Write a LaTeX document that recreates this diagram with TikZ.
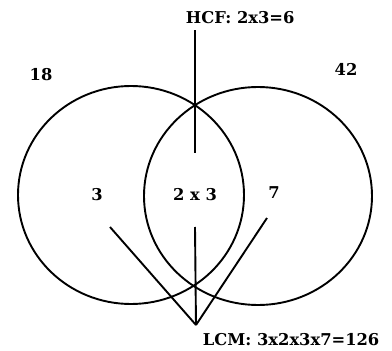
\documentclass[tikz,border=0pt]{standalone}
\usepackage{fontspec}
\setmainfont{DejaVu Serif}
\begin{document}
\begin{tikzpicture}[x=1pt,y=-1pt,line width=1.9pt,
  lbl/.style={font=\fontsize{16.3}{18}\selectfont\bfseries, inner sep=0pt}]
\useasboundingbox (0,0) rectangle (392,351);
% the two sets
\draw (131,195) ellipse [x radius=113pt, y radius=109pt];
\draw (258,196) ellipse [x radius=114pt, y radius=109pt];

\node[lbl] (n18) at (41,75) {18};
\node[lbl] (n42) at (346,69) {42};
\node[lbl] (only18) at (97,195) {3};
\node[lbl] (both) at (195,195) {2 x 3};
\node[lbl] (only42) at (274,193) {7};

\node[lbl, anchor=west] (hcf) at (185,18) {HCF: 2x3=6};
\node[lbl, anchor=west] (lcm) at (202,340) {LCM: 3x2x3x7=126};

\coordinate (hcftop) at (195,30);
\coordinate (hcfend) at (195,153);
\coordinate (apex) at (196,325);
\coordinate (lefttop) at (110,227);
\coordinate (midtop) at (195,227);
\coordinate (righttop) at (267,218);

\draw (hcftop) -- (hcfend);
\draw (lefttop) -- (apex);
\draw (midtop) -- (apex);
\draw (righttop) -- (apex);
\end{tikzpicture}
\end{document}
